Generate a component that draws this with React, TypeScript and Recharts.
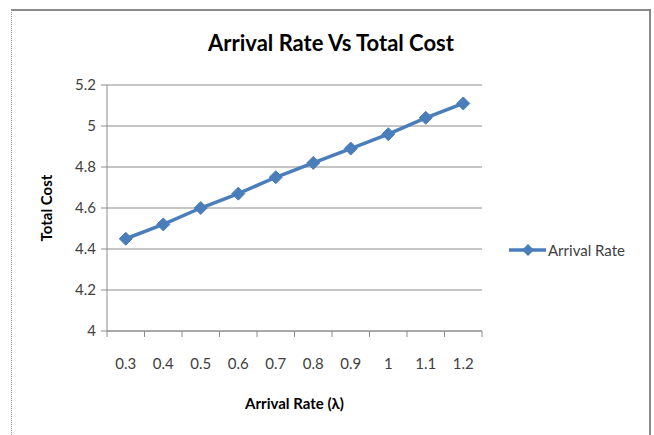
import React from 'react'
import { LineChart, Line, XAxis, YAxis, CartesianGrid, Label } from 'recharts'

const rates = [0.3, 0.4, 0.5, 0.6, 0.7, 0.8, 0.9, 1.0, 1.1, 1.2]
const rateLabels = ['0.3', '0.4', '0.5', '0.6', '0.7', '0.8', '0.9', '1', '1.1', '1.2']
const totalCost = [4.45, 4.52, 4.6, 4.67, 4.75, 4.82, 4.89, 4.96, 5.04, 5.11]
const costTicks = [4, 4.2, 4.4, 4.6, 4.8, 5, 5.2]
const boundaryTicks = [0.25, 0.35, 0.45, 0.55, 0.65, 0.75, 0.85, 0.95, 1.05, 1.15, 1.25]

const data = rates.map((r, i) => ({ x: r, cost: totalCost[i] }))
const allXTicks = [...boundaryTicks, ...rates].sort((a, b) => a - b)

const BLUE = '#4a7ebb'
const GRID = '#8c8c8c'
const FONT = 'Lato, "Open Sans", sans-serif'

const Diamond = (props: any) => {
  const { cx, cy } = props
  if (cx == null || cy == null) return null
  const r = 6.5
  return (
    <polygon
      points={`${cx},${cy - r} ${cx + r},${cy} ${cx},${cy + r} ${cx - r},${cy}`}
      fill={BLUE}
      stroke={BLUE}
      strokeWidth={1}
    />
  )
}

// boundaries get a tick mark, centres get the label (Excel style)
const XTick = (props: any) => {
  const { x, y, payload } = props
  const v = payload.value
  const i = rates.findIndex((r) => Math.abs(r - v) < 1e-6)
  if (i < 0) {
    return <line x1={x} y1={y} x2={x} y2={y + 6} stroke={GRID} />
  }
  return (
    <text x={x} y={y + 38} textAnchor="middle" fill="#404040" fontSize={15} fontFamily={FONT}>
      {rateLabels[i]}
    </text>
  )
}

export default function App() {
  return (
    <div style={{ position: 'absolute', left: 0, top: 0, width: 654, height: 435, background: '#fff', overflow: 'hidden' }}>
      <div
        style={{
          position: 'absolute',
          left: 11,
          top: 9,
          width: 637,
          height: 440,
          borderTop: '2px solid #8a8a8a',
          borderRight: '2px solid #8a8a8a',
          borderLeft: '1px dotted #9a9a9a',
        }}
      />
      <div
        style={{
          position: 'absolute',
          left: 0,
          width: 662,
          top: 29,
          textAlign: 'center',
          fontFamily: FONT,
          fontWeight: 700,
          fontSize: 22,
          color: '#000',
        }}
      >
        Arrival Rate Vs Total Cost
      </div>
      <LineChart
        width={654}
        height={435}
        data={data}
        margin={{ top: 85, right: 172, bottom: 10, left: 0 }}
        style={{ position: 'absolute', left: 0, top: 0 }}
      >
        <CartesianGrid vertical={false} stroke={GRID} strokeWidth={1} />
        <XAxis
          type="number"
          dataKey="x"
          domain={[0.25, 1.25]}
          ticks={allXTicks}
          interval={0}
          height={94}
          axisLine={{ stroke: GRID }}
          tickLine={false}
          tickSize={0}
          tickMargin={0}
          tick={<XTick />}
        >
          <Label
            value="Arrival Rate (λ)"
            position="insideBottom"
            offset={16}
            style={{ fill: '#000', fontSize: 15, fontWeight: 700, fontFamily: FONT }}
          />
        </XAxis>
        <YAxis
          type="number"
          domain={[4, 5.2]}
          ticks={costTicks}
          width={107}
          axisLine={{ stroke: GRID }}
          tickLine={{ stroke: GRID }}
          tickSize={6}
          tickMargin={5}
          tick={{ fill: '#404040', fontSize: 15, fontFamily: FONT }}
          tickFormatter={(v: number) => String(Number(v.toFixed(1)))}
        >
          <Label
            value="Total Cost"
            angle={-90}
            position="insideLeft"
            offset={47}
            style={{ fill: '#000', fontSize: 15, fontWeight: 700, fontFamily: FONT, textAnchor: 'middle' }}
          />
        </YAxis>
        <Line
          type="linear"
          dataKey="cost"
          name="Arrival Rate"
          stroke={BLUE}
          strokeWidth={3.5}
          dot={<Diamond />}
          activeDot={false}
          isAnimationActive={false}
        />
      </LineChart>
      <div
        style={{
          position: 'absolute',
          left: 509,
          top: 241,
          display: 'flex',
          alignItems: 'center',
          fontFamily: FONT,
          fontSize: 15,
          color: '#404040',
        }}
      >
        <svg width={37} height={14}>
          <line x1={0} y1={7} x2={37} y2={7} stroke={BLUE} strokeWidth={3.5} />
          <polygon points="19,1 25,7 19,13 13,7" fill={BLUE} />
        </svg>
        <span style={{ marginLeft: 2 }}>Arrival Rate</span>
      </div>
    </div>
  )
}
